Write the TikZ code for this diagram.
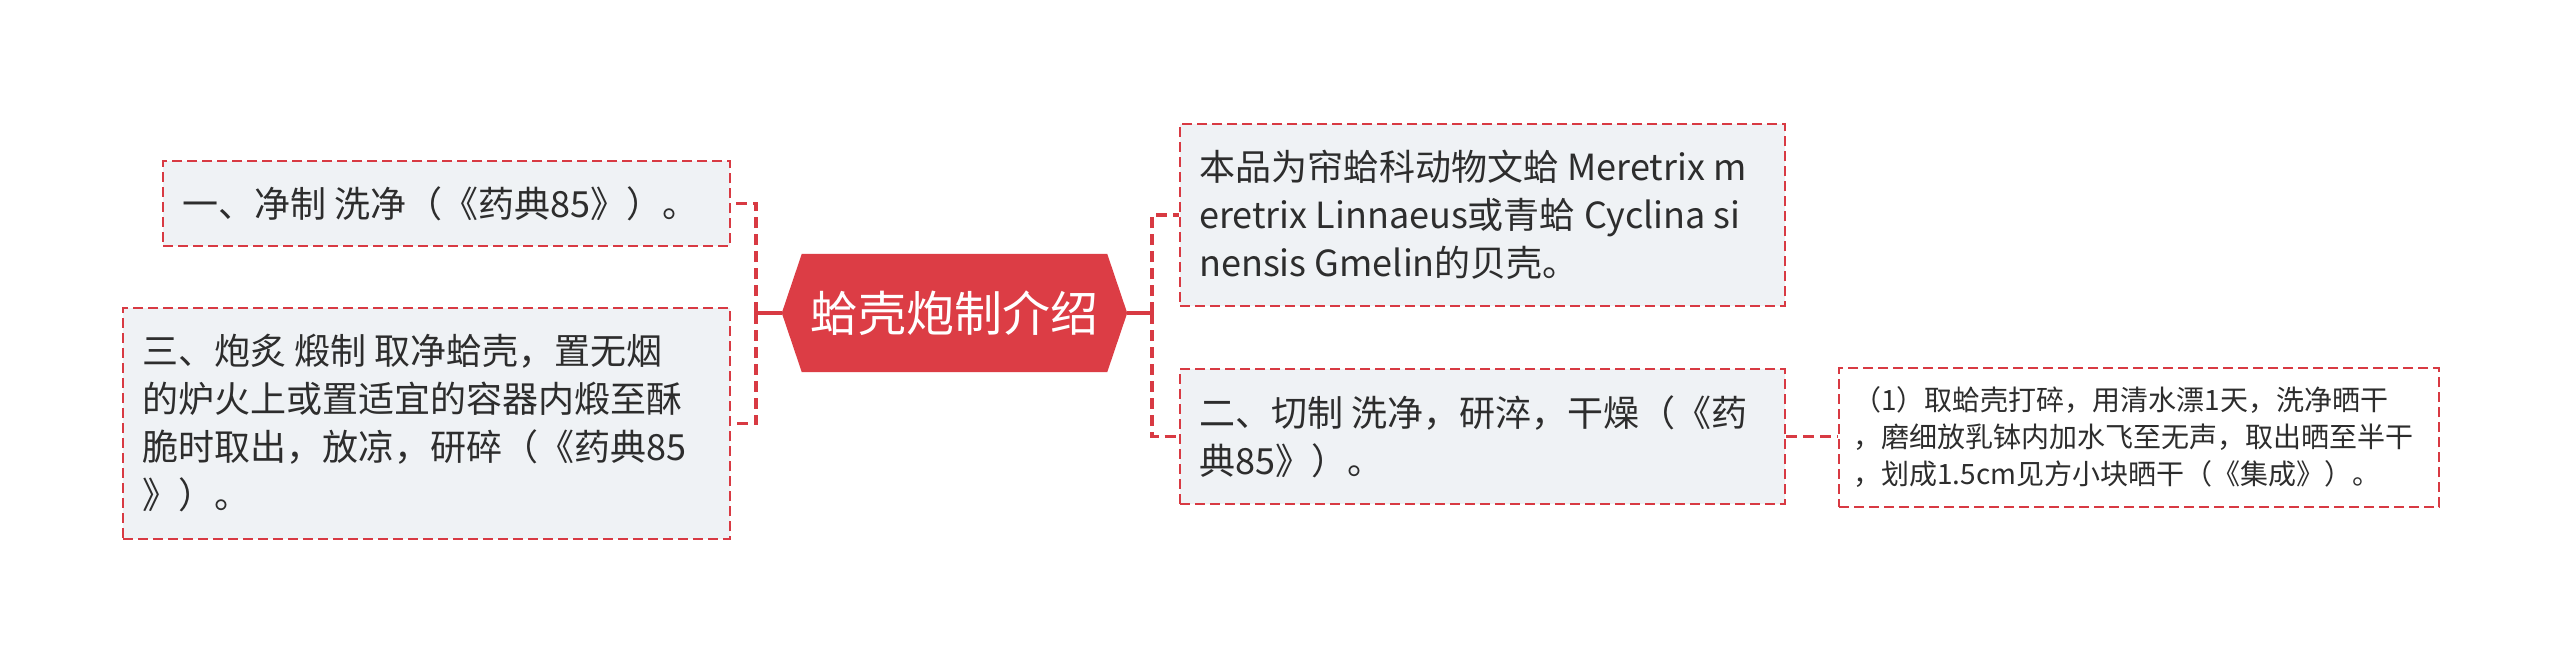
\documentclass[tikz,border=0pt]{standalone}
\usepackage{fontspec}
\setmainfont{Noto Sans CJK SC}
\usetikzlibrary{backgrounds}
\definecolor{lred}{HTML}{D83A43}
\definecolor{cfill}{HTML}{DC3D45}
\definecolor{bfill}{HTML}{EFF2F5}
\definecolor{txtc}{HTML}{2D2D2D}
\begin{document}
\begin{tikzpicture}[x=1pt,y=-1pt,
  topic/.style={draw=lred, line width=2pt, dash pattern=on 10pt off 5pt, fill=bfill, inner sep=0pt, anchor=north west},
  subtopic/.style={topic, fill=white},
  txt/.style={align=left, inner sep=0pt, text=txtc, anchor=west, font=\fontsize{36}{48}\selectfont},
  smalltxt/.style={txt, font=\fontsize{28}{37}\selectfont},
  bus/.style={draw=lred, line width=3.5pt, dash pattern=on 11pt off 6pt},
  stub/.style={draw=lred, line width=3.5pt}]
\useasboundingbox (0,0) rectangle (2560,661);

% central node
\node[inner sep=0pt, minimum width=305, minimum height=118, text=white,
      font=\fontsize{48}{58}\selectfont] (c) at (954.5,313) {蛤壳炮制介绍};
\coordinate (cl) at ([xshift=-20pt]c.west);
\coordinate (cr) at ([xshift=20pt]c.east);
\begin{scope}[on background layer]
  \fill[white] (0,0) rectangle (2560,661);
  \fill[cfill] (c.north west) -- (cl) -- (c.south west) -- (c.south east) -- (cr) -- (c.north east) -- cycle;
\end{scope}

% left boxes
\node[topic, minimum width=567, minimum height=85] (b1) at (162,160) {};
\node[txt] (t1) at ([xshift=20pt]b1.west) {一、净制 洗净（《药典85》）。};

\node[topic, minimum width=607, minimum height=231] (b3) at (122,307) {};
\node[txt] (t3) at ([xshift=20pt]b3.west) {三、炮炙 煅制 取净蛤壳，置无烟\\的炉火上或置适宜的容器内煅至酥\\脆时取出，放凉，研碎（《药典85\\》）。};

% right boxes
\node[topic, minimum width=605, minimum height=182] (b2) at (1179,123) {};
\node[txt] (t2) at ([xshift=20pt]b2.west) {本品为帘蛤科动物文蛤 Meretrix m\\eretrix Linnaeus或青蛤 Cyclina si\\nensis Gmelin的贝壳。};

\node[topic, minimum width=605, minimum height=135] (b4) at (1179,368) {};
\node[txt] (t4) at ([xshift=20pt]b4.west) {二、切制 洗净，研淬，干燥（《药\\典85》）。};

\node[subtopic, minimum width=600, minimum height=139] (b5) at (1838,367) {};
\node[smalltxt] (t5) at ([xshift=15pt]b5.west) {（1）取蛤壳打碎，用清水漂1天，洗净晒干\\，磨细放乳钵内加水飞至无声，取出晒至半干\\，划成1.5cm见方小块晒干（《集成》）。};

% connectors
\coordinate (jl) at (756,313);
\coordinate (jr) at (1152,313);
\draw[stub] (cl) -- (jl);
\draw[bus] (jl) |- (b1.east);
\draw[bus] (jl) |- (b3.east);
\draw[stub] (cr) -- (jr);
\draw[bus] (jr) |- (b2.west);
\draw[bus] (jr) |- (b4.west);
\draw[bus] (b4.east) -- (b4.east -| b5.west);
\end{tikzpicture}
\end{document}
